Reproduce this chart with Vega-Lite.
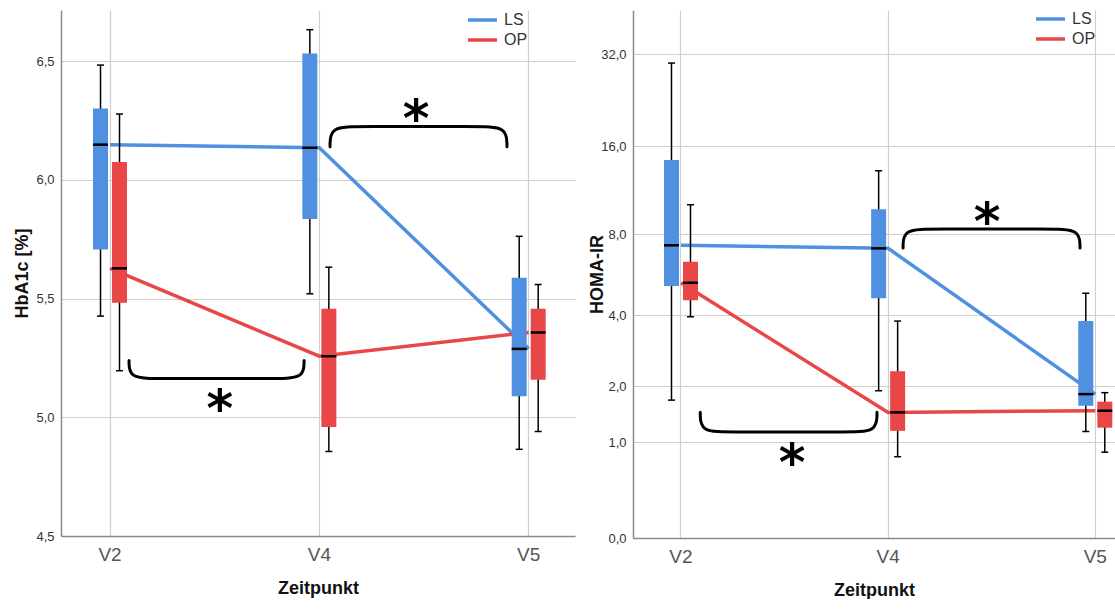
{
  "$schema": "https://vega.github.io/schema/vega-lite/v6.json",
  "padding": {"left": 13, "top": 10, "right": 1, "bottom": 0},
  "spacing": 13,
  "background": "white",
  "config": {
    "font": "Liberation Sans",
    "view": {"stroke": null},
    "axis": {
      "gridColor": "#cfcfcf", "gridWidth": 1.2, "domainColor": "#8a8a8a", "domainWidth": 1.5,
      "ticks": false, "labelColor": "#333333", "titleColor": "#111111", "titleFontWeight": "bold",
      "titleFontSize": 18, "labelFont": "Liberation Sans", "titleFont": "Liberation Sans"
    },
    "legend": {
      "orient": "none", "title": null, "symbolType": "stroke", "symbolSize": 841, "symbolStrokeWidth": 3.5,
      "labelFontSize": 16, "labelColor": "#333333", "rowPadding": 2, "clipHeight": 18, "labelOffset": 5,
      "padding": 0, "labelFont": "Liberation Sans"
    }
  },
  "resolve": {"scale": {"color": "independent"}, "legend": {"color": "independent"}},
  "datasets": {
    "hba1c": [
      {"t": "V2", "g": "LS", "lo": 5.426, "q1": 5.706, "med": 6.148, "q3": 6.30, "hi": 6.483},
      {"t": "V2", "g": "OP", "lo": 5.196, "q1": 5.482, "med": 5.627, "q3": 6.075, "hi": 6.277},
      {"t": "V4", "g": "LS", "lo": 5.52, "q1": 5.835, "med": 6.135, "q3": 6.532, "hi": 6.632},
      {"t": "V4", "g": "OP", "lo": 4.856, "q1": 4.959, "med": 5.257, "q3": 5.457, "hi": 5.632},
      {"t": "V5", "g": "LS", "lo": 4.865, "q1": 5.088, "med": 5.288, "q3": 5.587, "hi": 5.762},
      {"t": "V5", "g": "OP", "lo": 4.94, "q1": 5.158, "med": 5.357, "q3": 5.457, "hi": 5.559}
    ],
    "homa": [
      {"t": "V2", "g": "LS", "lo": 1.71, "q1": 5.19, "med": 7.30, "q3": 14.38, "hi": 30.0},
      {"t": "V2", "g": "OP", "lo": 3.95, "q1": 4.58, "med": 5.33, "q3": 6.37, "hi": 10.13},
      {"t": "V4", "g": "LS", "lo": 1.90, "q1": 4.66, "med": 7.12, "q3": 9.77, "hi": 13.23},
      {"t": "V4", "g": "OP", "lo": 0.80, "q1": 1.17, "med": 1.48, "q3": 2.34, "hi": 3.80},
      {"t": "V5", "g": "LS", "lo": 1.16, "q1": 1.60, "med": 1.83, "q3": 3.80, "hi": 4.87},
      {"t": "V5", "g": "OP", "lo": 0.86, "q1": 1.22, "med": 1.51, "q3": 1.68, "hi": 1.86}
    ],
    "hba1c_br": [
      {"b": "B1", "i": 0, "xi": 0.091, "y": 5.239},
      {"b": "B1", "i": 1, "xi": 0.091, "y": 5.163},
      {"b": "B1", "i": 2, "xi": 0.235, "y": 5.163},
      {"b": "B1", "i": 3, "xi": 0.783, "y": 5.163},
      {"b": "B1", "i": 4, "xi": 0.927, "y": 5.163},
      {"b": "B1", "i": 5, "xi": 0.927, "y": 5.239},
      {"b": "B2", "i": 0, "xi": 1.051, "y": 6.139},
      {"b": "B2", "i": 1, "xi": 1.051, "y": 6.224},
      {"b": "B2", "i": 2, "xi": 1.195, "y": 6.224},
      {"b": "B2", "i": 3, "xi": 1.752, "y": 6.224},
      {"b": "B2", "i": 4, "xi": 1.896, "y": 6.224},
      {"b": "B2", "i": 5, "xi": 1.896, "y": 6.139}
    ],
    "hba1c_star": [
      {"xi": 0.525, "y": 5.079},
      {"xi": 1.462, "y": 6.299}
    ],
    "homa_br": [
      {"b": "B1", "i": 0, "xi": 0.093, "y": 1.483},
      {"b": "B1", "i": 1, "xi": 0.093, "y": 1.153},
      {"b": "B1", "i": 2, "xi": 0.238, "y": 1.153},
      {"b": "B1", "i": 3, "xi": 0.801, "y": 1.153},
      {"b": "B1", "i": 4, "xi": 0.946, "y": 1.153},
      {"b": "B1", "i": 5, "xi": 0.946, "y": 1.483},
      {"b": "B2", "i": 0, "xi": 1.072, "y": 7.135},
      {"b": "B2", "i": 1, "xi": 1.072, "y": 8.335},
      {"b": "B2", "i": 2, "xi": 1.217, "y": 8.335},
      {"b": "B2", "i": 3, "xi": 1.781, "y": 8.335},
      {"b": "B2", "i": 4, "xi": 1.926, "y": 8.335},
      {"b": "B2", "i": 5, "xi": 1.926, "y": 7.135}
    ],
    "homa_star": [
      {"xi": 0.536, "y": 0.846},
      {"xi": 1.478, "y": 9.58}
    ]
  },
  "hconcat": [
    {
      "width": 514,
      "height": 526,
      "resolve": {"scale": {"x": "independent"}},
      "layer": [
        {
          "data": {"name": "hba1c"},
          "layer": [
            {
              "mark": {"type": "line", "strokeWidth": 3.5},
              "encoding": {
                "x": {"field": "t", "type": "nominal", "bandPosition": 0.5,
                  "scale": {"type": "band", "domain": ["V2", "V4", "V5"], "paddingInner": 0.8185, "paddingOuter": 0.1369, "align": 0.5236},
                  "axis": {"title": "Zeitpunkt", "labelAngle": 0, "labelFontSize": 19, "labelColor": "#555555", "labelPadding": 9, "titlePadding": 15, "grid": true, "bandPosition": 0.5}},
                "y": {"field": "med", "type": "quantitative",
                  "scale": {"domain": [4.5, 6.715], "nice": false, "zero": false},
                  "axis": {"title": "HbA1c [%]", "values": [4.5, 5, 5.5, 6, 6.5], "labelExpr": "replace(format(datum.value, '.1f'), '.', ',')", "labelFontSize": 13, "labelPadding": 7, "titlePadding": 4, "grid": true}},
                "color": {"field": "g", "type": "nominal",
                  "scale": {"domain": ["LS", "OP"], "range": ["#4f90e0", "#e94747"]},
                  "legend": {"legendX": 405, "legendY": 1}}
              }
            },
            {
              "mark": {"type": "rule", "color": "black", "strokeWidth": 1.5},
              "encoding": {
                "x": {"field": "t", "type": "nominal"},
                "xOffset": {"field": "g", "type": "nominal"},
                "y": {"field": "lo", "type": "quantitative"},
                "y2": {"field": "hi"}
              }
            },
            {
              "mark": {"type": "bar", "size": 15},
              "encoding": {
                "x": {"field": "t", "type": "nominal"},
                "xOffset": {"field": "g", "type": "nominal"},
                "y": {"field": "q1", "type": "quantitative"},
                "y2": {"field": "q3"},
                "color": {"field": "g", "type": "nominal"}
              }
            },
            {
              "mark": {"type": "tick", "color": "black", "size": 15, "thickness": 2.5, "opacity": 1},
              "encoding": {
                "x": {"field": "t", "type": "nominal"},
                "xOffset": {"field": "g", "type": "nominal"},
                "y": {"field": "med", "type": "quantitative"}
              }
            },
            {
              "mark": {"type": "tick", "color": "black", "size": 7, "thickness": 1.5, "opacity": 1},
              "encoding": {
                "x": {"field": "t", "type": "nominal"},
                "xOffset": {"field": "g", "type": "nominal"},
                "y": {"field": "lo", "type": "quantitative"}
              }
            },
            {
              "mark": {"type": "tick", "color": "black", "size": 7, "thickness": 1.5, "opacity": 1},
              "encoding": {
                "x": {"field": "t", "type": "nominal"},
                "xOffset": {"field": "g", "type": "nominal"},
                "y": {"field": "hi", "type": "quantitative"}
              }
            }
          ]
        },
        {
          "data": {"name": "hba1c_br"},
          "mark": {"type": "line", "interpolate": "basis", "color": "black", "strokeWidth": 3, "strokeCap": "round"},
          "encoding": {
            "x": {"field": "xi", "type": "quantitative", "scale": {"domain": [-0.234, 2.221], "nice": false, "zero": false}, "axis": null},
            "y": {"field": "y", "type": "quantitative"},
            "detail": {"field": "b", "type": "nominal"},
            "order": {"field": "i", "type": "quantitative"}
          }
        },
        {
          "data": {"name": "hba1c_star"},
          "mark": {"type": "text", "text": "*", "font": "DejaVu Sans", "fontSize": 51, "fontWeight": "bold", "baseline": "alphabetic", "align": "center", "dy": 27, "color": "black"},
          "encoding": {
            "x": {"field": "xi", "type": "quantitative", "scale": {"domain": [-0.234, 2.221], "nice": false, "zero": false}, "axis": null},
            "y": {"field": "y", "type": "quantitative"}
          }
        }
      ]
    },
    {
      "width": 482,
      "height": 528,
      "resolve": {"scale": {"x": "independent"}},
      "layer": [
        {
          "data": {"name": "homa"},
          "layer": [
            {
              "mark": {"type": "line", "strokeWidth": 3.5},
              "encoding": {
                "x": {"field": "t", "type": "nominal", "bandPosition": 0.5,
                  "scale": {"type": "band", "domain": ["V2", "V4", "V5"], "paddingInner": 0.8166, "paddingOuter": 0.0717, "align": 0.976},
                  "axis": {"title": "Zeitpunkt", "labelAngle": 0, "labelFontSize": 19, "labelColor": "#555555", "labelPadding": 9, "titlePadding": 15, "grid": true, "bandPosition": 0.5}},
                "y": {"field": "med", "type": "quantitative",
                  "scale": {"type": "symlog", "constant": 1, "domain": [0, 44.5], "nice": false, "zero": false},
                  "axis": {"title": "HOMA-IR", "values": [0, 1, 2, 4, 8, 16, 32], "labelExpr": "replace(format(datum.value, '.1f'), '.', ',')", "labelFontSize": 13, "labelPadding": 7, "titlePadding": -6, "grid": true}},
                "color": {"field": "g", "type": "nominal",
                  "scale": {"domain": ["LS", "OP"], "range": ["#4f90e0", "#e94747"]},
                  "legend": {"legendX": 401, "legendY": 0}}
              }
            },
            {
              "mark": {"type": "rule", "color": "black", "strokeWidth": 1.5},
              "encoding": {
                "x": {"field": "t", "type": "nominal"},
                "xOffset": {"field": "g", "type": "nominal"},
                "y": {"field": "lo", "type": "quantitative"},
                "y2": {"field": "hi"}
              }
            },
            {
              "mark": {"type": "bar", "size": 15},
              "encoding": {
                "x": {"field": "t", "type": "nominal"},
                "xOffset": {"field": "g", "type": "nominal"},
                "y": {"field": "q1", "type": "quantitative"},
                "y2": {"field": "q3"},
                "color": {"field": "g", "type": "nominal"}
              }
            },
            {
              "mark": {"type": "tick", "color": "black", "size": 15, "thickness": 2.5, "opacity": 1},
              "encoding": {
                "x": {"field": "t", "type": "nominal"},
                "xOffset": {"field": "g", "type": "nominal"},
                "y": {"field": "med", "type": "quantitative"}
              }
            },
            {
              "mark": {"type": "tick", "color": "black", "size": 7, "thickness": 1.5, "opacity": 1},
              "encoding": {
                "x": {"field": "t", "type": "nominal"},
                "xOffset": {"field": "g", "type": "nominal"},
                "y": {"field": "lo", "type": "quantitative"}
              }
            },
            {
              "mark": {"type": "tick", "color": "black", "size": 7, "thickness": 1.5, "opacity": 1},
              "encoding": {
                "x": {"field": "t", "type": "nominal"},
                "xOffset": {"field": "g", "type": "nominal"},
                "y": {"field": "hi", "type": "quantitative"}
              }
            }
          ]
        },
        {
          "data": {"name": "homa_br"},
          "mark": {"type": "line", "interpolate": "basis", "color": "black", "strokeWidth": 3, "strokeCap": "round"},
          "encoding": {
            "x": {"field": "xi", "type": "quantitative", "scale": {"domain": [-0.2317, 2.095], "nice": false, "zero": false}, "axis": null},
            "y": {"field": "y", "type": "quantitative"},
            "detail": {"field": "b", "type": "nominal"},
            "order": {"field": "i", "type": "quantitative"}
          }
        },
        {
          "data": {"name": "homa_star"},
          "mark": {"type": "text", "text": "*", "font": "DejaVu Sans", "fontSize": 51, "fontWeight": "bold", "baseline": "alphabetic", "align": "center", "dy": 27, "color": "black"},
          "encoding": {
            "x": {"field": "xi", "type": "quantitative", "scale": {"domain": [-0.2317, 2.095], "nice": false, "zero": false}, "axis": null},
            "y": {"field": "y", "type": "quantitative"}
          }
        }
      ]
    }
  ]
}
